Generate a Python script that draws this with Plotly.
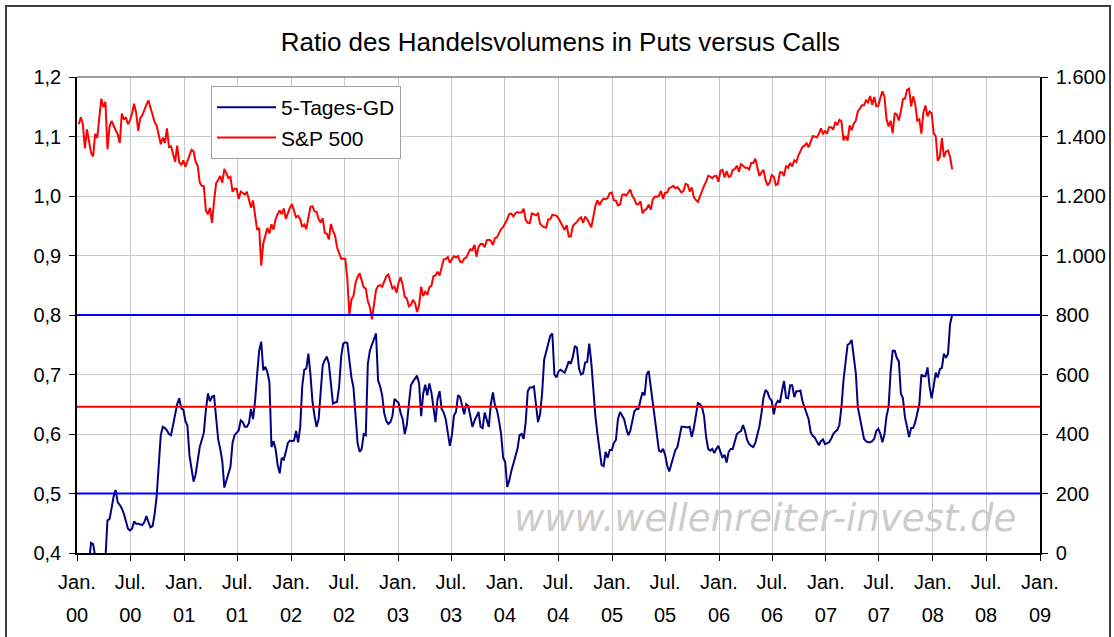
import pandas as pd
import plotly.graph_objects as go

# ---------------- data (weekly) ----------------
START_WEEK = "2000-01-07"

spx_2000 = [1441,1465,1441,1360,1424,1387,1346,1333,1409,1395,1464,1527,1499,1516,1357,1434,1452,1433,1421,1407,1378,1477,1457,1465,1441,1455,1478,1510,1480,1419,1462,1471,1491,1507,1521,1495,1466,1449,1437,1408,1374,1396,1379,1427,1365,1367,1341,1315,1369,1313,1305,1320]
spx_2001 = [1298,1318,1342,1355,1350,1315,1302,1246,1234,1233,1151,1139,1160,1110,1183,1243,1254,1267,1245,1291,1277,1260,1264,1214,1225,1224,1190,1215,1210,1205,1214,1190,1161,1185,1134,1086,1093,966,1041,1072,1092,1074,1105,1087,1121,1139,1151,1139,1158,1123,1144,1161]
spx_2002 = [1173,1146,1128,1133,1122,1096,1104,1089,1132,1164,1166,1148,1147,1122,1111,1125,1076,1073,1054,1106,1083,1067,1027,1007,989,990,989,921,800,852,864,908,928,940,916,893,889,846,827,785,835,884,897,900,895,910,930,936,912,889,895,875]
spx_2003 = [909,927,901,861,856,829,834,851,841,810,833,895,864,878,868,893,898,930,933,945,933,964,987,988,995,976,985,998,993,998,980,977,990,993,1008,1021,1018,1036,996,1029,1039,1039,1028,1051,1053,1050,1035,1058,1061,1074,1089,1095]
spx_2004 = [1108,1122,1140,1141,1131,1142,1146,1144,1145,1157,1120,1110,1109,1141,1139,1135,1141,1107,1099,1095,1094,1121,1122,1137,1135,1134,1125,1112,1101,1086,1102,1064,1064,1099,1107,1113,1123,1128,1110,1131,1122,1109,1095,1130,1167,1185,1170,1183,1191,1189,1194,1210,1212]
spx_2005 = [1186,1184,1168,1171,1203,1206,1201,1211,1222,1200,1190,1172,1172,1182,1142,1152,1157,1171,1154,1189,1198,1197,1201,1217,1191,1211,1212,1227,1229,1234,1226,1230,1220,1212,1218,1241,1238,1215,1229,1196,1187,1180,1199,1220,1234,1248,1268,1265,1260,1267,1268,1248]
spx_2006 = [1285,1288,1262,1284,1264,1267,1288,1290,1302,1282,1307,1302,1295,1295,1289,1311,1311,1325,1291,1267,1280,1288,1253,1236,1245,1270,1265,1237,1240,1279,1280,1267,1302,1295,1311,1299,1320,1314,1336,1350,1365,1369,1377,1364,1380,1401,1400,1397,1409,1427,1410,1418]
spx_2007 = [1410,1431,1431,1423,1449,1438,1456,1451,1387,1402,1386,1437,1421,1443,1453,1484,1494,1505,1505,1522,1515,1536,1507,1533,1502,1503,1530,1552,1534,1459,1434,1453,1411,1479,1474,1454,1484,1525,1527,1557,1561,1501,1535,1509,1453,1458,1410,1481,1504,1468,1484,1478]
spx_2008 = [1411,1401,1318,1331,1395,1331,1349,1353,1331,1290]

pc_2000 = [0.36,0.37,0.38,0.39,0.37,0.385,0.417,0.415,0.395,0.37,0.36,0.37,0.38,0.39,0.455,0.457,0.475,0.495,0.506,0.485,0.481,0.475,0.466,0.455,0.441,0.438,0.441,0.453,0.449,0.449,0.448,0.447,0.452,0.462,0.452,0.443,0.445,0.465,0.495,0.55,0.598,0.612,0.610,0.606,0.600,0.598,0.615,0.632,0.650,0.660,0.643,0.641]
pc_2001 = [0.622,0.614,0.564,0.542,0.520,0.532,0.556,0.578,0.590,0.602,0.640,0.668,0.655,0.663,0.664,0.625,0.591,0.575,0.555,0.510,0.522,0.533,0.545,0.585,0.598,0.602,0.606,0.623,0.620,0.612,0.612,0.618,0.642,0.625,0.655,0.700,0.740,0.755,0.707,0.713,0.704,0.687,0.578,0.588,0.575,0.548,0.534,0.560,0.557,0.570,0.585,0.589]
pc_2002 = [0.588,0.589,0.605,0.586,0.611,0.680,0.708,0.710,0.735,0.700,0.655,0.630,0.612,0.625,0.673,0.716,0.724,0.730,0.718,0.685,0.651,0.653,0.654,0.680,0.730,0.752,0.754,0.753,0.725,0.695,0.678,0.630,0.585,0.570,0.575,0.600,0.598,0.718,0.740,0.750,0.760,0.769,0.690,0.680,0.665,0.635,0.622,0.617,0.620,0.630,0.659,0.655]
pc_2003 = [0.652,0.635,0.625,0.600,0.615,0.650,0.682,0.688,0.693,0.698,0.685,0.630,0.668,0.683,0.665,0.685,0.670,0.648,0.620,0.659,0.672,0.642,0.636,0.625,0.605,0.580,0.598,0.631,0.637,0.665,0.662,0.645,0.633,0.650,0.647,0.630,0.612,0.622,0.630,0.637,0.612,0.610,0.636,0.625,0.612,0.650,0.670,0.648,0.640,0.622,0.600,0.560]
pc_2004 = [0.553,0.511,0.522,0.538,0.550,0.560,0.575,0.598,0.600,0.592,0.620,0.672,0.678,0.678,0.680,0.650,0.620,0.633,0.668,0.725,0.740,0.752,0.765,0.769,0.700,0.695,0.705,0.708,0.705,0.703,0.712,0.722,0.718,0.730,0.748,0.745,0.710,0.700,0.702,0.720,0.721,0.752,0.720,0.672,0.630,0.600,0.570,0.548,0.546,0.570,0.560,0.573,0.573]
pc_2005 = [0.585,0.590,0.625,0.637,0.632,0.625,0.610,0.598,0.605,0.625,0.638,0.642,0.642,0.657,0.670,0.665,0.700,0.706,0.680,0.648,0.620,0.600,0.572,0.570,0.575,0.565,0.547,0.537,0.548,0.560,0.573,0.578,0.595,0.612,0.612,0.611,0.611,0.612,0.595,0.610,0.630,0.652,0.650,0.645,0.630,0.595,0.575,0.572,0.575,0.568,0.575,0.580]
pc_2006 = [0.570,0.560,0.565,0.552,0.570,0.575,0.575,0.588,0.600,0.603,0.605,0.615,0.605,0.590,0.583,0.580,0.578,0.585,0.598,0.613,0.635,0.662,0.674,0.670,0.660,0.656,0.633,0.650,0.656,0.653,0.672,0.689,0.661,0.660,0.682,0.682,0.662,0.672,0.672,0.673,0.655,0.645,0.635,0.625,0.603,0.597,0.594,0.587,0.581,0.588,0.591,0.583]
pc_2007 = [0.585,0.586,0.592,0.600,0.604,0.607,0.615,0.645,0.690,0.725,0.750,0.752,0.758,0.730,0.703,0.645,0.625,0.605,0.592,0.588,0.586,0.586,0.588,0.592,0.605,0.609,0.600,0.586,0.600,0.630,0.645,0.705,0.740,0.740,0.728,0.722,0.668,0.660,0.628,0.612,0.595,0.610,0.610,0.620,0.635,0.650,0.700,0.697,0.697,0.712,0.680,0.660]
pc_2008 = [0.681,0.703,0.695,0.709,0.711,0.735,0.728,0.735,0.785,0.800]

# reference lines (left axis)
LEVEL_HIGH = 0.8
LEVEL_MEAN = 0.646
LEVEL_LOW = 0.5

tick_dates = [f"{y}-{m:02d}-01" for y in range(2000, 2009) for m in (1, 7)] + ["2009-01-01"]
tick_month = ["Jan." if d[5:7] == "01" else "Jul." for d in tick_dates]
tick_year = [d[2:4] for d in tick_dates]

spx = spx_2000 + spx_2001 + spx_2002 + spx_2003 + spx_2004 + spx_2005 + spx_2006 + spx_2007 + spx_2008
pc = pc_2000 + pc_2001 + pc_2002 + pc_2003 + pc_2004 + pc_2005 + pc_2006 + pc_2007 + pc_2008
dates = pd.date_range(START_WEEK, periods=len(spx), freq="W-FRI")
X_RANGE = ["2000-01-01", "2009-01-01"]

FONT = "Arial, 'Liberation Sans', sans-serif"

fig = go.Figure()
fig.add_trace(go.Scatter(x=dates, y=pc, name="5-Tages-GD", mode="lines",
                         line=dict(color="#000080", width=2), yaxis="y"))
fig.add_trace(go.Scatter(x=dates, y=spx, name="S&P 500", mode="lines",
                         line=dict(color="#FF0000", width=2), yaxis="y2"))
# carrier trace for the second (year) row of x labels
fig.add_trace(go.Scatter(x=[dates[0]], y=[None], xaxis="x2", yaxis="y",
                         showlegend=False, hoverinfo="skip", mode="lines"))

for lvl, col in ((LEVEL_HIGH, "#0000FF"), (LEVEL_LOW, "#0000FF"), (LEVEL_MEAN, "#FF0000")):
    fig.add_hline(y=lvl, line=dict(color=col, width=2), layer="above")

tickfont = dict(family=FONT, size=20, color="black")
axis_common = dict(showline=True, linecolor="black", linewidth=1.5, ticks="outside",
                   ticklen=6, tickcolor="black", tickwidth=1, tickfont=tickfont)

fig.update_layout(
    width=1114, height=637,
    paper_bgcolor="white", plot_bgcolor="white",
    margin=dict(l=77, r=74, t=77, b=84, autoexpand=False),
    separators=",.",
    title=dict(text="Ratio des Handelsvolumens in Puts versus Calls",
               x=0.503, xref="container", xanchor="center",
               y=1 - 42 / 637, yref="container", yanchor="middle",
               font=dict(family=FONT, size=26, color="black")),
    xaxis=dict(type="date", range=X_RANGE,
               tickvals=tick_dates, ticktext=tick_month,
               showgrid=True, gridcolor="#C8C8C8", gridwidth=1,
               ticklabelstandoff=4, **axis_common),
    xaxis2=dict(type="date", range=X_RANGE, overlaying="x", anchor="y", side="bottom",
                tickvals=tick_dates, ticktext=tick_year, showgrid=False, showline=False,
                ticks="outside", ticklen=6, tickcolor="rgba(0,0,0,0)",
                ticklabelstandoff=38, tickfont=tickfont, zeroline=False),
    yaxis=dict(range=[0.4, 1.2], dtick=0.1, tick0=0.4, tickformat=".1f",
               showgrid=True, gridcolor="#C8C8C8", gridwidth=1, zeroline=False,
               ticklabelstandoff=4, **axis_common),
    yaxis2=dict(range=[0, 1600], dtick=200, tick0=0, tickformat=",.0f",
                overlaying="y", side="right", showgrid=False, zeroline=False,
                ticklabelstandoff=4, **axis_common),
    legend=dict(x=(211 - 77) / 963, y=(553 - 86) / 476, xanchor="left", yanchor="top",
                bgcolor="white", bordercolor="#A0A0A0", borderwidth=1,
                font=dict(family=FONT, size=21, color="black"),
                itemwidth=59, tracegroupgap=0),
    showlegend=True,
)

# plot-area top edge (gray) and outer chart frame
fig.add_shape(type="line", xref="paper", yref="paper", x0=0, x1=1, y0=1, y1=1,
              line=dict(color="#808080", width=1.5))
fig.add_shape(type="rect", xref="paper", yref="paper",
              x0=(6 - 77) / 963, x1=(1110 - 77) / 963,
              y0=(553 - 645) / 476, y1=(553 - 6) / 476,
              line=dict(color="#3C3C3C", width=2), layer="below")

fig.add_annotation(text="www.wellenreiter-invest.de", xref="paper", yref="paper",
                   x=(765 - 77) / 963, y=(553 - 518) / 476, xanchor="center", yanchor="middle",
                   showarrow=False,
                   font=dict(family="DejaVu Sans", size=37, color="#CCCCCC", style="italic"))

fig.write_html("out.html", config={"displayModeBar": False},
               post_script="document.body.style.margin='0';document.body.style.overflow='hidden';")
